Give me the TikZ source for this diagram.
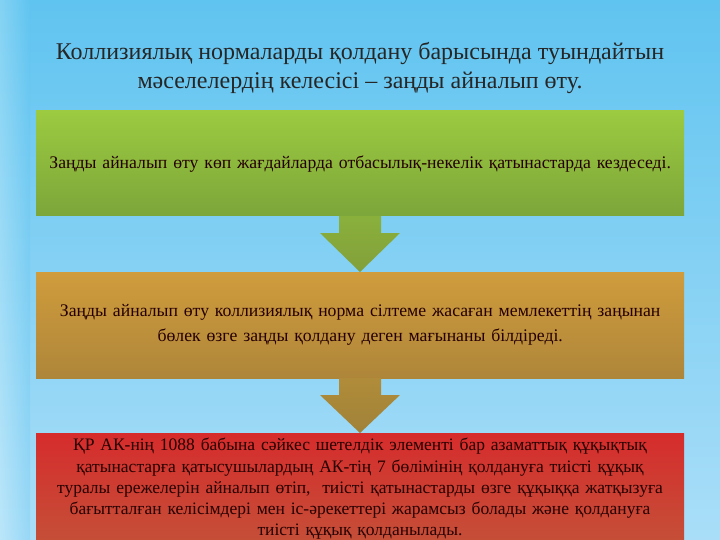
\documentclass[tikz,border=0pt]{standalone}
\usepackage{fontspec}
\setmainfont{Liberation Serif}
\begin{document}
\begin{tikzpicture}[x=1pt,y=-1pt,
  box/.style={minimum width=648pt,anchor=north west,inner sep=0pt,text width=640pt,align=center,font=\fontsize{17.7}{25}\selectfont,text=black!85!red}]
\useasboundingbox (0,0) rectangle (720,540);
\shade[top color={rgb,255:red,96;green,196;blue,240},bottom color={rgb,255:red,170;green,222;blue,248}] (0,0) rectangle (720,540);
\shade[left color=white!70!cyan!20,right color={rgb,255:red,96;green,196;blue,240},opacity=0.25] (0,0) rectangle (30,540);
\node[font=\fontsize{24}{29}\selectfont,align=center,text=black!85] (title) at (360,68) {Коллизиялық нормаларды қолдану барысында туындайтын\\мәселелердің келесісі -- заңды айналып өту.};
% boxes
\shade[top color={rgb,255:red,156;green,202;blue,64},bottom color={rgb,255:red,124;green,166;blue,58}] (36,111) rectangle (684,216);
\node[box,minimum height=105pt] (b1) at (36,111) {Заңды айналып өту көп жағдайларда отбасылық-некелік қатынастарда кездеседі.};
\shade[top color={rgb,255:red,208;green,156;blue,60},bottom color={rgb,255:red,174;green,134;blue,58}] (36,272) rectangle (684,378);
\node[box,minimum height=106pt] (b2) at (36,272) {Заңды айналып өту коллизиялық норма сілтеме жасаған мемлекеттің заңынан\\бөлек өзге заңды қолдану деген мағынаны білдіреді.};
\shade[top color={rgb,255:red,214;green,44;blue,44},bottom color={rgb,255:red,196;green,80;blue,56}] (36,433) rectangle (684,545);
\node[box,anchor=north,font=\fontsize{17.5}{21.3}\selectfont] (b3) at (360,438) {ҚР АК-нің 1088 бабына сәйкес шетелдік элементі бар азаматтық құқықтық\\қатынастарға қатысушылардың АК-тің 7 бөлімінің қолдануға тиісті құқық\\туралы ережелерін айналып өтіп,\ \ тиісті қатынастарды өзге құқыққа жатқызуға\\бағытталған келісімдері мен іс-әрекеттері жарамсыз болады және қолдануға\\тиісті құқық қолданылады.};
% arrows
\shade[top color={rgb,255:red,138;green,176;blue,60},bottom color={rgb,255:red,130;green,160;blue,58}]
  (339,216) -- (381,216) -- (381,233) -- (400,233) -- (360,272) -- (320,233) -- (339,233) -- cycle;
\shade[top color={rgb,255:red,176;green,140;blue,58},bottom color={rgb,255:red,160;green,130;blue,56}]
  (339,378) -- (381,378) -- (381,395) -- (400,395) -- (360,433) -- (320,395) -- (339,395) -- cycle;
\end{tikzpicture}
\end{document}
